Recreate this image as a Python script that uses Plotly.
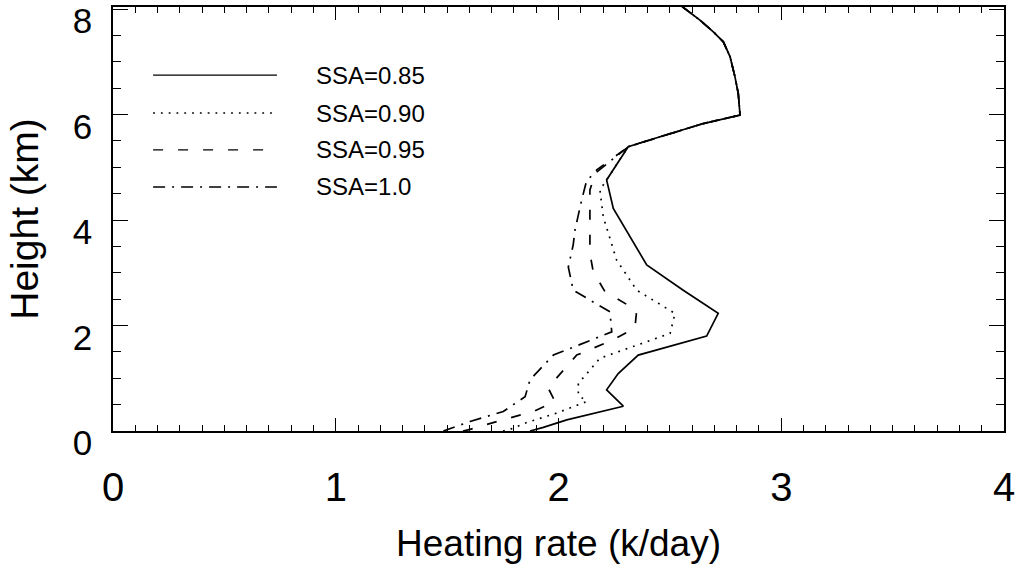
import plotly.graph_objects as go

# Common upper part of the profiles (all SSA cases coincide above ~5.4 km)
top_rate = [2.313, 2.456, 2.650, 2.815, 2.807, 2.792, 2.770, 2.740, 2.695, 2.635, 2.568, 2.536]
top_height = [5.39, 5.58, 5.83, 5.99, 6.40, 6.72, 7.10, 7.38, 7.57, 7.79, 8.01, 8.11]

# SSA = 0.85
rate_085 = [1.872, 1.932, 2.037, 2.291, 2.216, 2.268, 2.358, 2.665, 2.717, 2.560, 2.396, 2.246, 2.216]
height_085 = [0.00, 0.07, 0.21, 0.47, 0.78, 1.09, 1.44, 1.80, 2.23, 2.67, 3.15, 4.22, 4.76]

# SSA = 0.90
rate_090 = [1.751, 1.782, 1.857, 1.992, 2.127, 2.089, 2.089, 2.186, 2.501, 2.523, 2.351, 2.261, 2.201, 2.186]
height_090 = [0.00, 0.03, 0.16, 0.34, 0.56, 0.68, 0.90, 1.38, 1.85, 2.23, 2.67, 3.24, 4.06, 4.57]

# SSA = 0.95
rate_095 = [1.571, 1.603, 1.723, 1.887, 1.984, 1.953, 2.082, 2.246, 2.343, 2.351, 2.209, 2.156, 2.141, 2.141, 2.171]
height_095 = [0.00, 0.03, 0.18, 0.37, 0.56, 0.82, 1.44, 1.73, 1.95, 2.29, 2.64, 3.02, 3.37, 4.57, 4.95]

# SSA = 1.0
rate_100 = [1.483, 1.603, 1.752, 1.850, 1.872, 1.977, 2.239, 2.231, 2.066, 2.044, 2.066, 2.074, 2.104, 2.127]
height_100 = [0.00, 0.18, 0.37, 0.65, 0.97, 1.44, 1.88, 2.26, 2.67, 3.11, 3.53, 3.81, 4.38, 4.76]

labels = ["SSA=0.85", "SSA=0.90", "SSA=0.95", "SSA=1.0"]
x_ticks = [0, 1, 2, 3, 4]
y_ticks = [0, 2, 4, 6, 8]

series = [(rate_085, height_085), (rate_090, height_090),
          (rate_095, height_095), (rate_100, height_100)]
dashes = ["solid", "1.8px,6px", "10px,15px", "12px,7px,2px,7px"]

fig = go.Figure()
for (r, h), lab, d in zip(series, labels, dashes):
    fig.add_trace(go.Scatter(
        x=r + top_rate, y=h + top_height, mode="lines", name=lab,
        line=dict(color="black", width=1.7, dash=d), showlegend=False,
    ))

# Legend drawn with long line keys, as in the original figure
leg_y = [0.8395, 0.7500, 0.6630, 0.5755]
for lab, d, yy in zip(labels, dashes, leg_y):
    fig.add_shape(type="line", xref="paper", yref="paper",
                  x0=0.045, x1=0.184, y0=yy, y1=yy,
                  line=dict(color="black", width=1.3, dash=d))
    fig.add_annotation(xref="paper", yref="paper", x=0.226, y=yy,
                       text=lab, showarrow=False, xanchor="left", yanchor="middle",
                       font=dict(family="Liberation Sans, Arial, sans-serif", size=24, color="black"))

sans = "Liberation Sans, Arial, sans-serif"
fig.update_layout(
    width=1021, height=573,
    margin=dict(l=113, r=17, t=7, b=142),
    paper_bgcolor="white", plot_bgcolor="white",
    xaxis=dict(
        range=[0, 4], tickvals=x_ticks, ticktext=[str(v) for v in x_ticks],
        ticks="inside", ticklen=13, tickwidth=1.2, tickcolor="black",
        minor=dict(dtick=0.1, ticks="inside", ticklen=6, tickwidth=1, tickcolor="black"),
        showline=True, linecolor="black", linewidth=1.6, mirror="ticks",
        showgrid=False, zeroline=False, automargin=False,
        tickfont=dict(family=sans, size=40, color="black"),
        ticklabelstandoff=20,
        title=dict(text="Heating rate (k/day)", standoff=22,
                   font=dict(family=sans, size=37, color="black")),
    ),
    yaxis=dict(
        range=[0, 8.04], tickvals=y_ticks, ticktext=[str(v) for v in y_ticks],
        ticks="inside", ticklen=15, tickwidth=1.2, tickcolor="black",
        minor=dict(dtick=0.5, ticks="inside", ticklen=8, tickwidth=1, tickcolor="black"),
        showline=True, linecolor="black", linewidth=1.6, mirror="ticks",
        showgrid=False, zeroline=False, automargin=False,
        tickfont=dict(family=sans, size=35, color="black"),
        ticklabelstandoff=12, ticklabeloverflow="allow", ticklabelshift=12,
        title=dict(text="Height (km)", standoff=22,
                   font=dict(family=sans, size=39, color="black")),
    ),
)

fig.write_html("out.html")
